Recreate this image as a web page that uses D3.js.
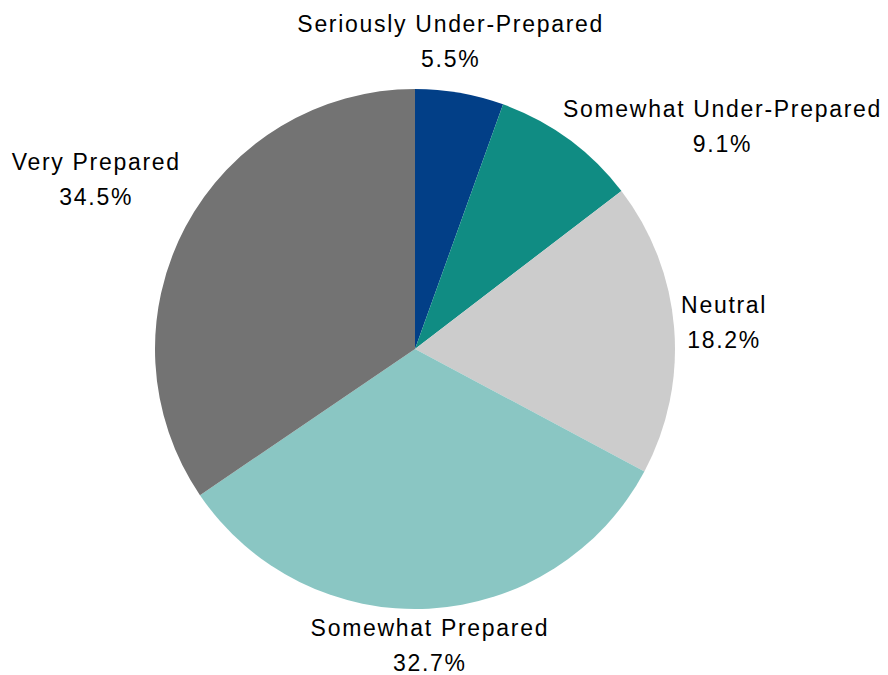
<!DOCTYPE html>
<html>
<head>
<meta charset="utf-8">
<script src="https://cdn.jsdelivr.net/npm/d3@7"></script>
<style>
  body { margin: 0; background: #fff; }
  text { font-family: Helvetica, "Liberation Sans", Arial, sans-serif; fill: #000; }
</style>
</head>
<body>
<div id="chart"></div>
<script>
// data
var categories = ["Seriously Under-Prepared", "Somewhat Under-Prepared", "Neutral", "Somewhat Prepared", "Very Prepared"];
var values = [5.5, 9.1, 18.2, 32.7, 34.5];
var colors = ["#023f87", "#108c83", "#cccccc", "#8ac6c3", "#737373"];

// layout
var width = 888, height = 675;
var cx = 415, cy = 349, radius = 260;
var fontSize = 23, lineGap = 35, spacing = 1.7;
// manual label nudges (first baseline) from the slice's outer edge point
var labelNudge = [[-9, -61], [154, -22], [50, -15], [1, 27], [-89, -57]];

var data = categories.map(function (c, i) { return { name: c, value: values[i], color: colors[i], i: i }; });

var svg = d3.select("#chart")
    .append("svg")
    .attr("width", width)
    .attr("height", height);

var g = svg.append("g")
    .attr("transform", "translate(" + cx + "," + cy + ")");

var pie = d3.pie()
    .sort(null)
    .value(function (d) { return d.value; });

var arc = d3.arc()
    .innerRadius(0)
    .outerRadius(radius);

var arcs = pie(data);

g.selectAll("path.slice")
    .data(arcs)
    .enter()
    .append("path")
    .attr("class", "slice")
    .attr("d", arc)
    .style("fill", function (d) { return d.data.color; });

// labels
var labels = g.selectAll("g.label")
    .data(arcs)
    .enter()
    .append("g")
    .attr("class", "label")
    .attr("transform", function (d) {
        var a = (d.startAngle + d.endAngle) / 2;
        var n = labelNudge[d.data.i];
        var x = Math.sin(a) * radius + n[0];
        var y = -Math.cos(a) * radius + n[1];
        return "translate(" + x + "," + y + ")";
    });

labels.append("text")
    .attr("text-anchor", "middle")
    .style("font-size", fontSize + "px")
    .style("letter-spacing", spacing + "px")
    .text(function (d) { return d.data.name; });

labels.append("text")
    .attr("text-anchor", "middle")
    .attr("y", lineGap)
    .style("font-size", fontSize + "px")
    .style("letter-spacing", spacing + "px")
    .text(function (d) { return d.data.value.toFixed(1) + "%"; });
</script>
</body>
</html>
